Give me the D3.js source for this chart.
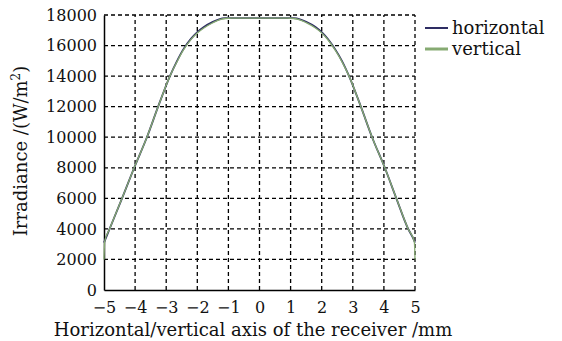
<!DOCTYPE html>
<html>
<head>
<meta charset="utf-8">
<script src="https://cdn.jsdelivr.net/npm/d3@7"></script>
<style>
	body { margin: 0; background: #fff; }
	text { fill: #111; }
</style>
</head>
<body>
<div id="chart"></div>
<script>
// values
const xTicks = [-5, -4, -3, -2, -1, 0, 1, 2, 3, 4, 5];
const yTicks = [0, 2000, 4000, 6000, 8000, 10000, 12000, 14000, 16000, 18000];

const horizontalX = [-5, -4.95, -4.82, -4.42, -4.03, -3.62, -3.26, -2.88, -2.65, -2.45, -2.2, -2.0, -1.8, -1.5, -1.3, -1.1, -0.9, 0, 0.9, 1.1, 1.3, 1.5, 1.8, 2.0, 2.2, 2.45, 2.65, 2.88, 3.26, 3.62, 4.03, 4.4, 4.78, 4.95, 5];
const horizontalY = [3100, 3350, 4000, 6000, 8000, 10000, 12000, 14000, 15000, 15750, 16450, 16880, 17200, 17550, 17720, 17790, 17800, 17800, 17800, 17790, 17720, 17560, 17220, 16880, 16430, 15700, 15000, 14000, 12000, 10000, 8000, 6000, 4000, 3350, 3100];

const verticalX = [-5, -4.98, -4.82, -4.42, -4.03, -3.62, -3.26, -2.88, -2.65, -2.45, -2.2, -2.0, -1.8, -1.5, -1.3, -1.1, -0.9, 0, 0.9, 1.1, 1.3, 1.5, 1.8, 2.0, 2.2, 2.45, 2.65, 2.88, 3.26, 3.62, 4.03, 4.4, 4.78, 4.98, 5];
const verticalY = [2000, 3150, 4000, 6000, 8000, 10000, 12000, 14000, 14950, 15700, 16400, 16820, 17130, 17490, 17680, 17770, 17790, 17790, 17790, 17770, 17680, 17500, 17150, 16830, 16380, 15650, 14950, 14000, 12000, 10000, 8000, 6000, 4000, 3150, 2000];

const seriesNames = ['horizontal', 'vertical'];
const seriesColors = ['#2e2d63', '#86aa72'];

const width = 562, height = 341;
const plot = {left: 104, right: 415, top: 15, bottom: 290};

const svg = d3.select('#chart')
	.append('svg')
	.attr('width', width)
	.attr('height', height);

const xScale = d3.scaleLinear().domain([-5, 5]).range([plot.left, plot.right]);
const yScale = d3.scaleLinear().domain([0, 18000]).range([plot.bottom, plot.top]);

// dashed grid
const grid = svg.append('g')
	.attr('stroke', '#000')
	.attr('stroke-width', 1.3)
	.attr('stroke-dasharray', '4,3');

grid.selectAll('.vgrid')
	.data(xTicks.slice(1))
	.enter()
	.append('line')
	.attr('x1', d => xScale(d))
	.attr('x2', d => xScale(d))
	.attr('y1', plot.bottom)
	.attr('y2', plot.top);

grid.selectAll('.hgrid')
	.data(yTicks.slice(1))
	.enter()
	.append('line')
	.attr('x1', plot.left)
	.attr('x2', plot.right)
	.attr('y1', d => yScale(d))
	.attr('y2', d => yScale(d));

// axes
const xAxis = svg.append('g')
	.attr('transform', `translate(0, ${plot.bottom})`)
	.call(d3.axisBottom(xScale).tickValues(xTicks).tickSize(0).tickPadding(12)
		.tickFormat(d => d < 0 ? '\u2212' + Math.abs(d) : d));

const yAxis = svg.append('g')
	.attr('transform', `translate(${plot.left}, 0)`)
	.call(d3.axisLeft(yScale).tickValues(yTicks).tickSize(0).tickPadding(7)
		.tickFormat(d3.format('d')));

[xAxis, yAxis].forEach(ax =>{
	ax.select('.domain').attr('stroke', '#000').attr('stroke-width', 1.5);
	ax.selectAll('text')
		.style('font-family', '"DejaVu Serif", serif')
		.style('font-size', '16px')
		.attr('fill', '#111');
});

// curves
const line = d3.line()
	.x(d => xScale(d[0]))
	.y(d => yScale(d[1]))
	.curve(d3.curveMonotoneX);

const series = [
	d3.zip(horizontalX, horizontalY),
	d3.zip(verticalX, verticalY)
];

svg.selectAll('.curve')
	.data(series)
	.enter()
	.append('path')
	.attr('fill', 'none')
	.attr('stroke', (d, i) => seriesColors[i])
	.attr('stroke-width', (d, i) => i === 0 ? 1.8 : 1.3)
	.attr('d', line);

// legend
const legend = svg.append('g')
	.attr('transform', 'translate(425, 28)');

const items = legend.selectAll('g')
	.data(seriesNames)
	.enter()
	.append('g')
	.attr('transform', (d, i) => `translate(0, ${i * 21})`);

items.append('line')
	.attr('x1', 0)
	.attr('x2', 23)
	.attr('stroke', (d, i) => seriesColors[i])
	.attr('stroke-width', (d, i) => i === 0 ? 2 : 3);

items.append('text')
	.attr('x', 27)
	.attr('dy', '0.32em')
	.style('font-family', '"DejaVu Serif", serif')
	.style('font-size', '18px')
	.text(d => d);

// axis titles
svg.append('text')
	.attr('x', 253)
	.attr('y', 336)
	.attr('text-anchor', 'middle')
	.style('font-family', '"DejaVu Serif", serif')
	.style('font-size', '18px')
	.text('Horizontal/vertical axis of the receiver /mm');

const yTitle = svg.append('text')
	.attr('transform', 'translate(27, 151) rotate(-90)')
	.attr('text-anchor', 'middle')
	.style('font-family', '"DejaVu Serif", serif')
	.style('font-size', '18px');
yTitle.append('tspan').text('Irradiance /(W/m');
yTitle.append('tspan').attr('dy', -7).style('font-size', '12px').text('2');
yTitle.append('tspan').attr('dy', 7).text(')');
</script>
</body>
</html>
